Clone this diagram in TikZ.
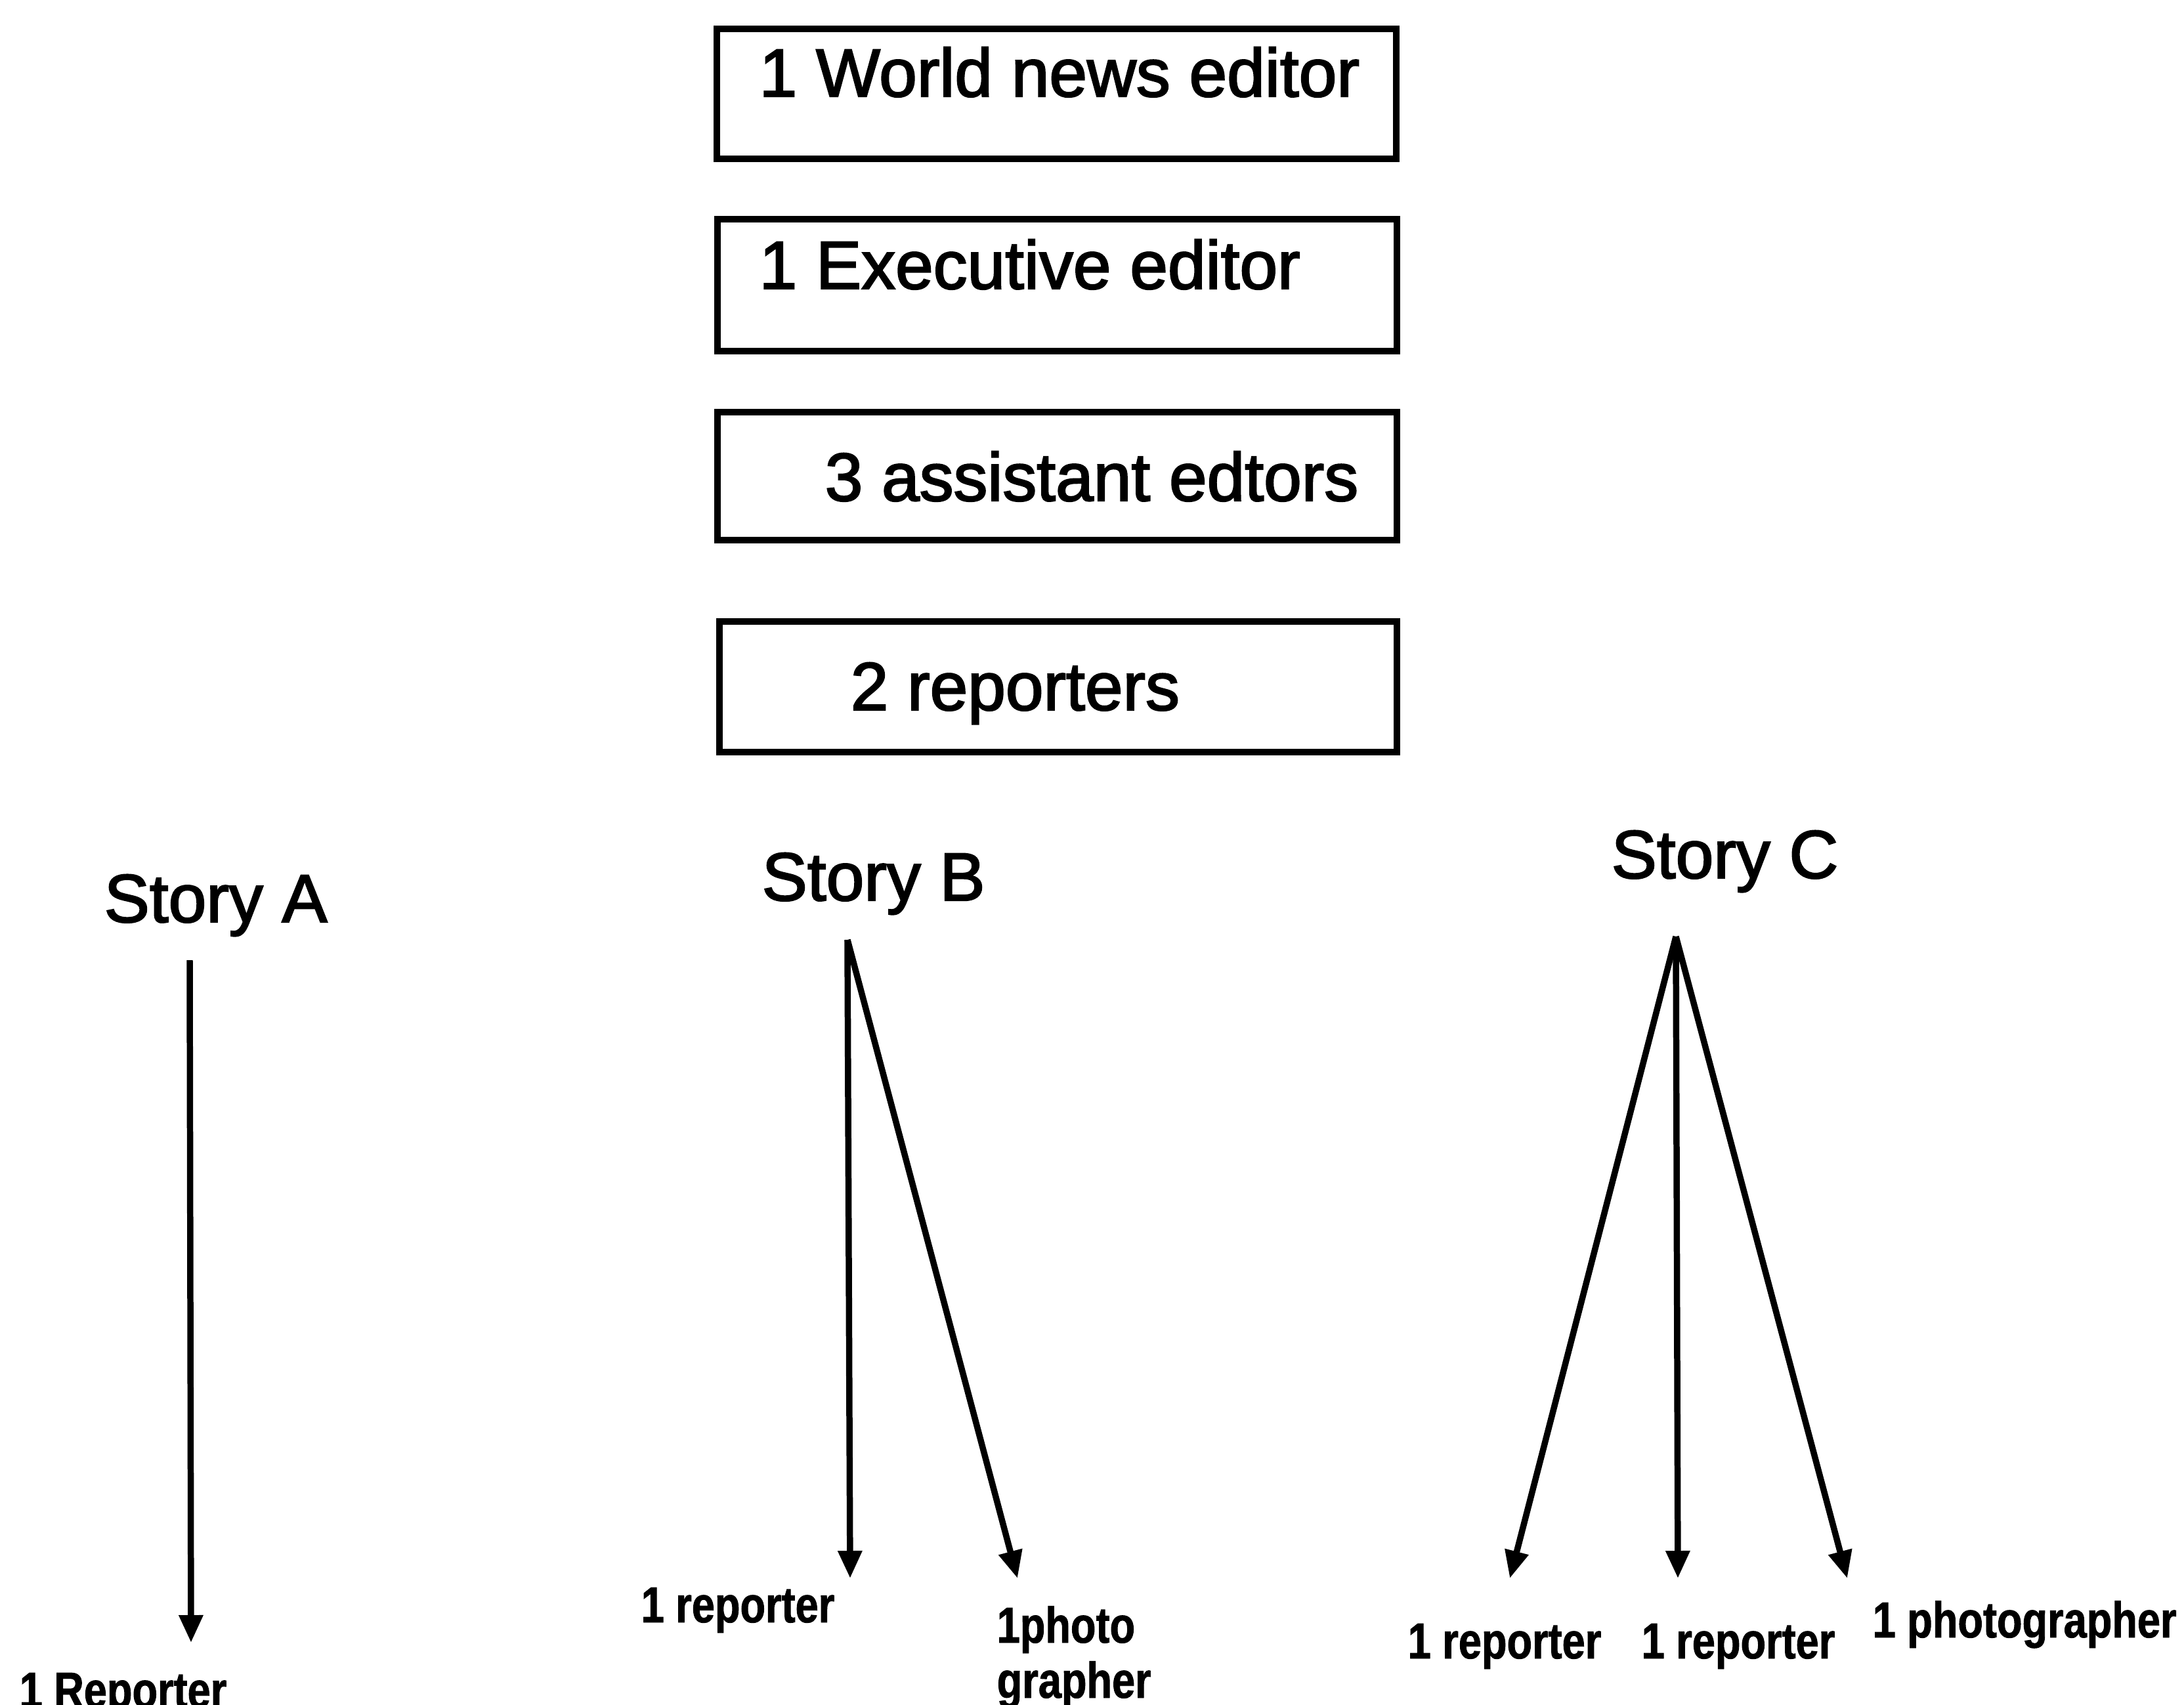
\documentclass[tikz,border=0pt]{standalone}
\usepackage{fontspec}
\setmainfont{Liberation Sans}[FakeBold=2.2]
\newfontfamily\lblfont[FakeStretch=0.82,FakeBold=1.2]{Liberation Sans Bold}
\usetikzlibrary{arrows.meta}

\tikzset{
  rolebox/.style={draw=black, line width=2.8pt, minimum width=10.35cm, inner sep=0pt},
  boxtext/.style={anchor=base west, inner sep=0pt, font=\fontsize{29.5}{35}\selectfont},
  storytext/.style={anchor=base west, inner sep=0pt, font=\fontsize{29.5}{35}\selectfont},
  stafftext/.style={anchor=base west, inner sep=0pt, align=left, font=\lblfont\fontsize{21.9}{23.9}\selectfont},
  assign/.style={draw=black, line width=2.7pt, -{Triangle[length=4.2mm,width=3.5mm]}}
}

\begin{document}
\begin{tikzpicture}
\useasboundingbox (0,0) rectangle (33.27,-25.98);

% desk hierarchy boxes
\node[rolebox, minimum height=1.98cm] (world) at (16.095,-1.43) {};
\node[rolebox, minimum height=2.01cm] (exec)  at (16.105,-4.345) {};
\node[rolebox, minimum height=1.95cm] (asst)  at (16.105,-7.255) {};
\node[rolebox, minimum height=1.99cm, minimum width=10.32cm] (rep) at (16.12,-10.465) {};

\node[boxtext] (worldt) at (11.56,-1.47) {1 World news editor};
\node[boxtext] (exect)  at (11.56,-4.40) {1 Executive editor};
\node[boxtext] (asstt)  at (12.56,-7.63) {3 assistant edtors};
\node[boxtext] (rept)   at (12.95,-10.82) {2 reporters};

% stories
\node[storytext] (storyA) at (1.58,-14.05) {Story A};
\node[storytext] (storyB) at (11.60,-13.72) {Story B};
\node[storytext] (storyC) at (24.54,-13.38) {Story C};

% staff assigned to each story
\node[stafftext] (repA)   at (0.29,-26.02) {1 Reporter};
\node[stafftext] (repB)   at (9.76,-24.72) {1 reporter};
\node[stafftext] (photoB) at (15.18,-25.87) {1photo\\grapher};
\node[stafftext] (repC1)  at (21.44,-25.27) {1 reporter};
\node[stafftext] (repC2)  at (25.00,-25.27) {1 reporter};
\node[stafftext] (photoC) at (28.52,-24.95) {1 photographer};

% arrow roots and tips
\coordinate (sA) at (2.89,-14.63);
\coordinate (tA) at (2.91,-25.03);
\coordinate (sB) at (12.91,-14.32);
\coordinate (tB1) at (12.95,-24.05);
\coordinate (tB2) at (15.50,-24.05);
\coordinate (sC) at (25.53,-14.27);
\coordinate (tC1) at (23.00,-24.05);
\coordinate (tC2) at (25.56,-24.05);
\coordinate (tC3) at (28.14,-24.05);

\draw[assign] (sA) -- (tA);
\draw[assign] (sB) -- (tB1);
\draw[assign] (sB) -- (tB2);
\draw[assign] (sC) -- (tC1);
\draw[assign] (sC) -- (tC2);
\draw[assign] (sC) -- (tC3);
\end{tikzpicture}
\end{document}
